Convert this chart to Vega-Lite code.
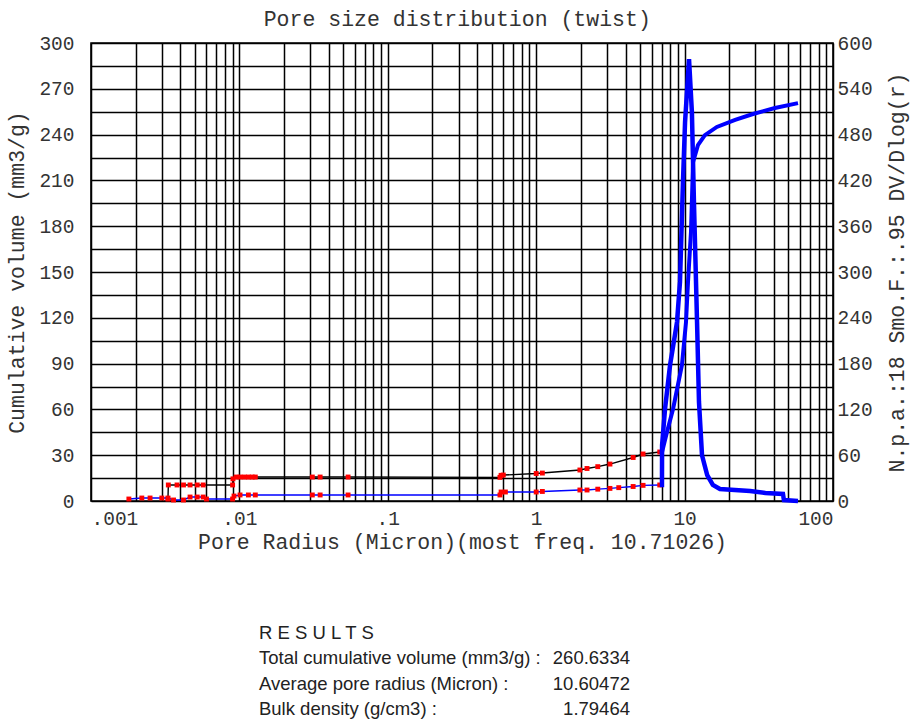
{
  "$schema": "https://vega.github.io/schema/vega-lite/v6.json",
  "background": "white",
  "padding": {"left": 6, "top": 8, "right": 5, "bottom": 0},
  "title": {"text": "Pore size distribution (twist)", "font": "Liberation Mono", "fontSize": 21.5, "fontWeight": "normal", "color": "#333", "anchor": "middle", "offset": 2},
  "config": {
    "view": {"stroke": "black", "strokeWidth": 1.6},
    "axis": {
      "labelFont": "Liberation Mono", "labelFontSize": 19.5, "labelColor": "#333",
      "titleFont": "Liberation Mono", "titleFontSize": 21.5, "titleFontWeight": "normal", "titleColor": "#333",
      "ticks": false, "domain": false, "gridColor": "black", "gridWidth": 1.5, "gridOpacity": 1, "labelOverlap": false
    }
  },
  "datasets": {
    "curves": [
      {"s": "cum_low", "r": 0.0033, "v": 1.3},
      {"s": "cum_low", "r": 0.00332, "v": 10.5},
      {"s": "cum_low", "r": 0.0038, "v": 10.5},
      {"s": "cum_low", "r": 0.0042, "v": 10.5},
      {"s": "cum_low", "r": 0.00465, "v": 10.5},
      {"s": "cum_low", "r": 0.0052, "v": 10.5},
      {"s": "cum_low", "r": 0.0057, "v": 10.5},
      {"s": "cum_low", "r": 0.009, "v": 10.5},
      {"s": "cum_low", "r": 0.00905, "v": 14.5},
      {"s": "cum_low", "r": 0.0095, "v": 15.7},
      {"s": "cum_low", "r": 0.0101, "v": 15.7},
      {"s": "cum_low", "r": 0.0108, "v": 15.7},
      {"s": "cum_low", "r": 0.0115, "v": 15.7},
      {"s": "cum_low", "r": 0.0122, "v": 15.7},
      {"s": "cum_low", "r": 0.0128, "v": 15.7},
      {"s": "cum_low", "r": 0.031, "v": 15.7},
      {"s": "cum_low", "r": 0.035, "v": 15.7},
      {"s": "cum_low", "r": 0.054, "v": 15.7},
      {"s": "cum_low", "r": 0.57, "v": 15.5},
      {"s": "cum_low", "r": 0.58, "v": 16.8},
      {"s": "cum_low", "r": 0.6, "v": 17.0},
      {"s": "cum_low", "r": 1.0, "v": 18.0},
      {"s": "cum_low", "r": 1.1, "v": 18.3},
      {"s": "cum_low", "r": 1.97, "v": 20.3},
      {"s": "cum_low", "r": 2.2, "v": 21.3},
      {"s": "cum_low", "r": 2.6, "v": 22.5},
      {"s": "cum_low", "r": 3.14, "v": 24.2},
      {"s": "cum_low", "r": 4.5, "v": 28.5},
      {"s": "cum_low", "r": 5.25, "v": 30.8},
      {"s": "cum_low", "r": 6.8, "v": 32.1},
      {"s": "cum_high", "r": 6.8, "v": 32.1},
      {"s": "cum_high", "r": 7.05, "v": 32.1},
      {"s": "cum_high", "r": 7.61, "v": 45.2},
      {"s": "cum_high", "r": 8.36, "v": 60.3},
      {"s": "cum_high", "r": 9.6, "v": 89.1},
      {"s": "cum_high", "r": 10.22, "v": 117.2},
      {"s": "cum_high", "r": 10.54, "v": 143.4},
      {"s": "cum_high", "r": 11.04, "v": 176.2},
      {"s": "cum_high", "r": 11.4, "v": 222.0},
      {"s": "cum_high", "r": 12.3, "v": 233.1},
      {"s": "cum_high", "r": 13.7, "v": 239.6},
      {"s": "cum_high", "r": 16.5, "v": 245.0},
      {"s": "cum_high", "r": 21.9, "v": 249.6},
      {"s": "cum_high", "r": 28.9, "v": 253.5},
      {"s": "cum_high", "r": 40.6, "v": 257.4},
      {"s": "cum_high", "r": 58.1, "v": 260.6},
      {"s": "dv_low", "r": 0.0018, "v": 2.6},
      {"s": "dv_low", "r": 0.0022, "v": 3.9},
      {"s": "dv_low", "r": 0.0025, "v": 3.9},
      {"s": "dv_low", "r": 0.003, "v": 3.9},
      {"s": "dv_low", "r": 0.0033, "v": 3.9},
      {"s": "dv_low", "r": 0.0036, "v": 1.3},
      {"s": "dv_low", "r": 0.0042, "v": 1.3},
      {"s": "dv_low", "r": 0.00465, "v": 5.2},
      {"s": "dv_low", "r": 0.0052, "v": 5.2},
      {"s": "dv_low", "r": 0.0057, "v": 5.2},
      {"s": "dv_low", "r": 0.006, "v": 2.6},
      {"s": "dv_low", "r": 0.009, "v": 2.6},
      {"s": "dv_low", "r": 0.0092, "v": 6.5},
      {"s": "dv_low", "r": 0.0101, "v": 7.9},
      {"s": "dv_low", "r": 0.0115, "v": 7.9},
      {"s": "dv_low", "r": 0.0128, "v": 7.9},
      {"s": "dv_low", "r": 0.031, "v": 7.9},
      {"s": "dv_low", "r": 0.035, "v": 7.9},
      {"s": "dv_low", "r": 0.054, "v": 7.9},
      {"s": "dv_low", "r": 0.57, "v": 7.9},
      {"s": "dv_low", "r": 0.58, "v": 11.8},
      {"s": "dv_low", "r": 0.62, "v": 11.8},
      {"s": "dv_low", "r": 1.0, "v": 11.8},
      {"s": "dv_low", "r": 1.1, "v": 12.5},
      {"s": "dv_low", "r": 1.97, "v": 14.4},
      {"s": "dv_low", "r": 2.2, "v": 14.4},
      {"s": "dv_low", "r": 2.6, "v": 15.5},
      {"s": "dv_low", "r": 3.14, "v": 16.5},
      {"s": "dv_low", "r": 3.6, "v": 17.5},
      {"s": "dv_low", "r": 4.5, "v": 19.0},
      {"s": "dv_low", "r": 5.25, "v": 20.5},
      {"s": "dv_low", "r": 6.8, "v": 21.0},
      {"s": "dv_high", "r": 6.8, "v": 21.0},
      {"s": "dv_high", "r": 7.04, "v": 21.0},
      {"s": "dv_high", "r": 7.05, "v": 73},
      {"s": "dv_high", "r": 7.38, "v": 120.5},
      {"s": "dv_high", "r": 7.98, "v": 178},
      {"s": "dv_high", "r": 8.89, "v": 234.5},
      {"s": "dv_high", "r": 9.31, "v": 287},
      {"s": "dv_high", "r": 9.75, "v": 418},
      {"s": "dv_high", "r": 10.07, "v": 496},
      {"s": "dv_high", "r": 10.71, "v": 579},
      {"s": "dv_high", "r": 11.2, "v": 509.6},
      {"s": "dv_high", "r": 11.56, "v": 391.7},
      {"s": "dv_high", "r": 12.13, "v": 234.5},
      {"s": "dv_high", "r": 12.5, "v": 129.7},
      {"s": "dv_high", "r": 13.1, "v": 60},
      {"s": "dv_high", "r": 14.2, "v": 34},
      {"s": "dv_high", "r": 15.5, "v": 21},
      {"s": "dv_high", "r": 17.3, "v": 15.7},
      {"s": "dv_high", "r": 27.6, "v": 13.1},
      {"s": "dv_high", "r": 35, "v": 10.5},
      {"s": "dv_high", "r": 46.0, "v": 9.2},
      {"s": "dv_high", "r": 46.7, "v": 1.3},
      {"s": "dv_high", "r": 58.1, "v": 0}
    ],
    "results": [
      {"line": 1, "kind": "label", "text": "R E S U L T S"},
      {"line": 2, "kind": "label", "text": "Total cumulative volume (mm3/g) :"},
      {"line": 2, "kind": "value", "text": "260.6334"},
      {"line": 3, "kind": "label", "text": "Average pore radius (Micron) :"},
      {"line": 3, "kind": "value", "text": "10.60472"},
      {"line": 4, "kind": "label", "text": "Bulk density  (g/cm3) :"},
      {"line": 4, "kind": "value", "text": "1.79464"}
    ]
  },
  "bounds": "flush",
  "spacing": 119,
  "vconcat": [
    {
      "width": 742,
      "height": 458,
      "data": {"name": "curves"},
      "encoding": {
        "x": {
          "field": "r", "type": "quantitative",
          "scale": {"type": "log", "domain": [0.001, 100], "nice": false},
          "title": "Pore Radius (Micron)(most freq. 10.71026)",
          "axis": {
            "values": [0.001, 0.002, 0.003, 0.004, 0.005, 0.006, 0.007, 0.008, 0.009, 0.01, 0.02, 0.03, 0.04, 0.05, 0.06, 0.07, 0.08, 0.09, 0.1, 0.2, 0.3, 0.4, 0.5, 0.6, 0.7, 0.8, 0.9, 1, 2, 3, 4, 5, 6, 7, 8, 9, 10, 20, 30, 40, 50, 60, 70, 80, 90, 100],
            "labelExpr": "datum.value == 0.001 ? '.001' : datum.value == 0.01 ? '.01' : datum.value == 0.1 ? '.1' : datum.value == 1 ? '1' : datum.value == 10 ? '10' : datum.value == 100 ? '100' : ''",
            "labelFlush": true,
            "labelPadding": 8,
            "titlePadding": 4,
            "grid": true
          }
        }
      },
      "layer": [
        {
          "encoding": {
            "y": {
              "field": "v", "type": "quantitative",
              "scale": {"domain": [0, 300], "nice": false},
              "title": "Cumulative volume (mm3/g)",
              "axis": {
                "orient": "left",
                "values": [0, 15, 30, 45, 60, 75, 90, 105, 120, 135, 150, 165, 180, 195, 210, 225, 240, 255, 270, 285, 300],
                "labelExpr": "datum.value % 30 == 0 ? datum.value : ''",
                "labelPadding": 17,
                "titlePadding": 10,
                "grid": true
              }
            }
          },
          "layer": [
            {"transform": [{"filter": "datum.s == 'cum_low'"}], "mark": {"type": "line", "color": "black", "strokeWidth": 1.4}},
            {"transform": [{"filter": "datum.s == 'cum_low'"}], "mark": {"type": "point", "shape": "square", "filled": true, "color": "#ff0000", "size": 24, "opacity": 1}},
            {"transform": [{"filter": "datum.s == 'cum_high'"}], "mark": {"type": "line", "color": "#0000ff", "strokeWidth": 4}}
          ]
        },
        {
          "encoding": {
            "y": {
              "field": "v", "type": "quantitative",
              "scale": {"domain": [0, 600], "nice": false},
              "title": "N.p.a.:18 Smo.F.:.95    DV/Dlog(r)",
              "axis": {
                "orient": "right",
                "values": [0, 60, 120, 180, 240, 300, 360, 420, 480, 540, 600],
                "labelPadding": 4,
                "titlePadding": 14,
                "titleAngle": 270,
                "titleBaseline": "top",
                "grid": false
              }
            }
          },
          "layer": [
            {"transform": [{"filter": "datum.s == 'dv_low'"}], "mark": {"type": "line", "color": "#0000ff", "strokeWidth": 1.4}},
            {"transform": [{"filter": "datum.s == 'dv_low'"}], "mark": {"type": "point", "shape": "square", "filled": true, "color": "#ff0000", "size": 24, "opacity": 1}},
            {"transform": [{"filter": "datum.s == 'dv_high'"}], "mark": {"type": "line", "color": "#0000ff", "strokeWidth": 4.5}}
          ]
        }
      ],
      "resolve": {"scale": {"y": "independent"}}
    },
    {
      "width": 742,
      "height": 102,
      "view": {"stroke": null},
      "data": {"name": "results"},
      "encoding": {
        "y": {"field": "line", "type": "ordinal", "axis": null, "scale": {"type": "point", "padding": 0.5}},
        "x": {"field": "kind", "type": "nominal", "axis": null, "scale": {"type": "point", "domain": ["label", "value"], "padding": 0.5, "align": 0.4528}},
        "text": {"field": "text"}
      },
      "layer": [
        {"transform": [{"filter": "datum.kind == 'label'"}], "mark": {"type": "text", "align": "left", "baseline": "middle", "font": "Liberation Sans", "fontSize": 18.5, "color": "#222"}},
        {"transform": [{"filter": "datum.kind == 'value'"}], "mark": {"type": "text", "align": "right", "baseline": "middle", "font": "Liberation Sans", "fontSize": 18.5, "color": "#222"}}
      ]
    }
  ]
}
